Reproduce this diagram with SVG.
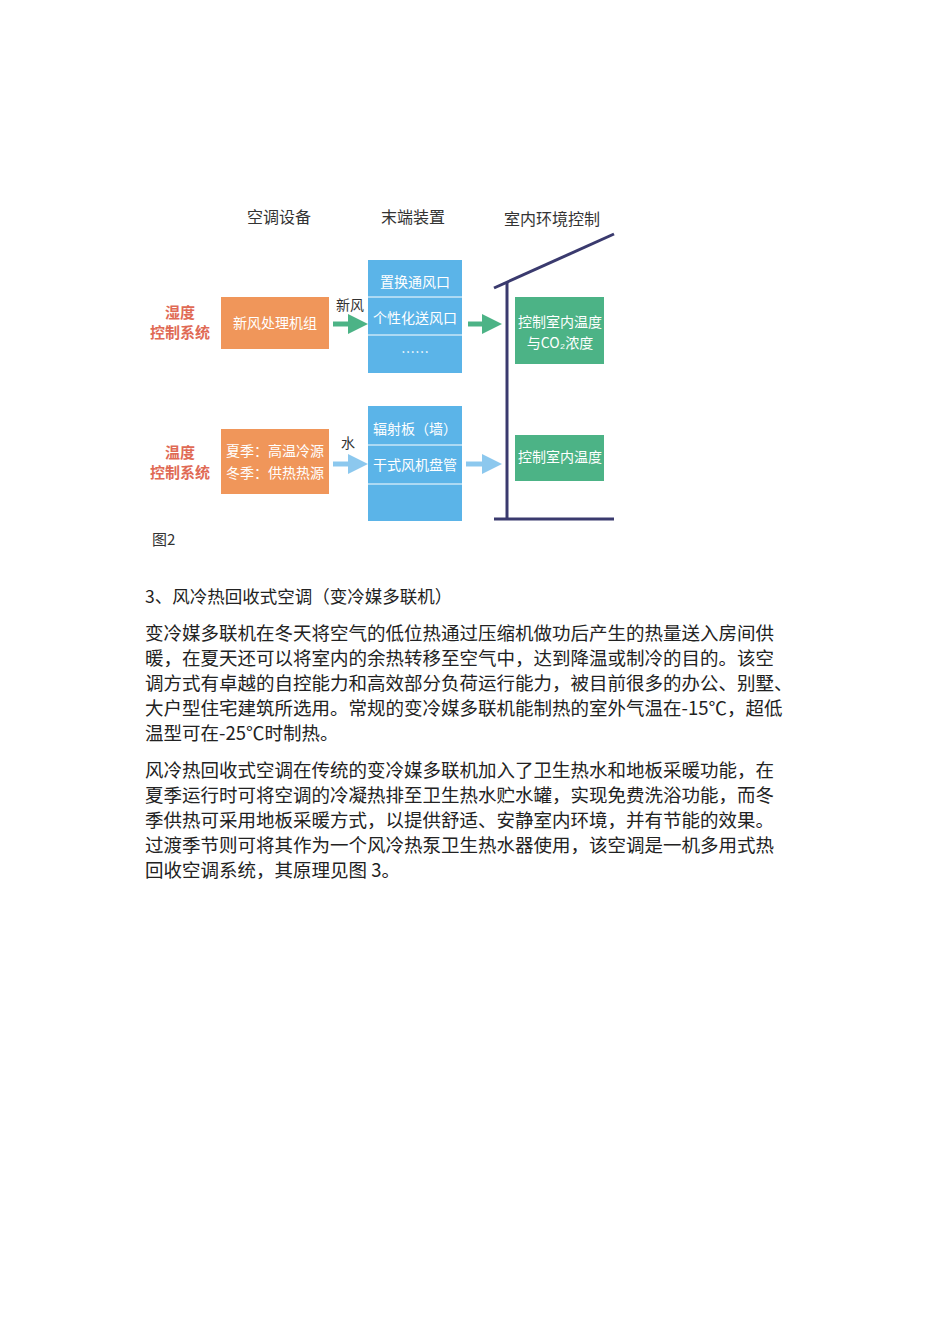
<svg xmlns="http://www.w3.org/2000/svg" width="950" height="1344" viewBox="0 0 950 1344">
<style>
.t{font-family:"Noto Sans CJK SC","Liberation Sans",sans-serif;}
.h{font-size:16px;fill:#333;}
.p{font-size:18.5px;fill:#222;}
.w{font-size:14px;fill:#fff;}
.r{font-size:15px;fill:#e06a55;font-weight:bold;}
.org{fill:#f0965a;}
.blu{fill:#5bb4e8;}
.grn{fill:#4cb386;}
</style>
<defs>
<marker id="ag" markerWidth="4" markerHeight="4" refX="2" refY="2" orient="auto"><path d="M0,0L4,2L0,4z" fill="#4cb386"/></marker>
<marker id="ab" markerWidth="4" markerHeight="4" refX="2" refY="2" orient="auto"><path d="M0,0L4,2L0,4z" fill="#8cc8ee"/></marker>
</defs>
<rect width="950" height="1344" fill="#fff"/>
<g class="t h" text-anchor="middle">
<text x="279" y="223">空调设备</text>
<text x="413" y="223">末端装置</text>
<text x="552" y="225">室内环境控制</text>
</g>
<g class="t r" text-anchor="middle">
<text x="180" y="318">湿度</text><text x="180" y="338">控制系统</text>
<text x="180" y="458">温度</text><text x="180" y="478">控制系统</text>
</g>
<g id="n1"><rect class="org" x="221" y="297" width="108" height="52"/><text class="t w" x="275" y="328" text-anchor="middle">新风处理机组</text></g>
<g id="n2"><rect class="org" x="221" y="429" width="108" height="65"/><text class="t w" x="275" y="456" text-anchor="middle">夏季：高温冷源</text><text class="t w" x="275" y="478" text-anchor="middle">冬季：供热热源</text></g>
<g id="n3"><rect class="blu" x="368" y="260" width="94" height="113"/>
<line x1="368" y1="297" x2="462" y2="297" stroke="#fff"/><line x1="368" y1="335" x2="462" y2="335" stroke="#fff"/>
<text class="t w" x="415" y="287" text-anchor="middle">置换通风口</text><text class="t w" x="415" y="323" text-anchor="middle">个性化送风口</text><text class="t w" x="415" y="357" text-anchor="middle">……</text></g>
<g id="n4"><rect class="blu" x="368" y="406" width="94" height="115"/>
<line x1="368" y1="445" x2="462" y2="445" stroke="#fff"/><line x1="368" y1="484" x2="462" y2="484" stroke="#fff"/>
<text class="t w" x="415" y="434" text-anchor="middle">辐射板（墙）</text><text class="t w" x="415" y="470" text-anchor="middle">干式风机盘管</text></g>
<g id="n5"><rect class="grn" x="515" y="297" width="89" height="67"/><text class="t w" x="560" y="327" text-anchor="middle">控制室内温度</text><text class="t w" x="560" y="348" text-anchor="middle">与CO₂浓度</text></g>
<g id="n6"><rect class="grn" x="515" y="435" width="89" height="46"/><text class="t w" x="560" y="462" text-anchor="middle">控制室内温度</text></g>
<g id="house" stroke="#3a3a6e" stroke-width="3"><line x1="507" y1="282" x2="507" y2="519"/><line x1="494" y1="288" x2="614" y2="234"/><line x1="494" y1="519" x2="614" y2="519"/></g>
<g id="connectors" stroke-width="5">
<line x1="333" y1="324" x2="358" y2="324" stroke="#4cb386" marker-end="url(#ag)"/>
<line x1="468" y1="324" x2="492" y2="324" stroke="#4cb386" marker-end="url(#ag)"/>
<line x1="333" y1="464" x2="358" y2="464" stroke="#8cc8ee" marker-end="url(#ab)"/>
<line x1="466" y1="464" x2="492" y2="464" stroke="#8cc8ee" marker-end="url(#ab)"/>
</g>
<text class="t" x="336" y="310" font-size="14" fill="#333">新风</text>
<text class="t" x="341" y="448" font-size="14" fill="#333">水</text>
<text class="t" x="152" y="545" font-size="15" fill="#333">图2</text>
<g class="t p">
<text x="145" y="603" font-size="17.5">3、风冷热回收式空调（变冷媒多联机）</text>
<text x="145" y="640">变冷媒多联机在冬天将空气的低位热通过压缩机做功后产生的热量送入房间供</text>
<text x="145" y="665">暖，在夏天还可以将室内的余热转移至空气中，达到降温或制冷的目的。该空</text>
<text x="145" y="690">调方式有卓越的自控能力和高效部分负荷运行能力，被目前很多的办公、别墅、</text>
<text x="145" y="715">大户型住宅建筑所选用。常规的变冷媒多联机能制热的室外气温在-15℃，超低</text>
<text x="145" y="740">温型可在-25℃时制热。</text>
<text x="145" y="777">风冷热回收式空调在传统的变冷媒多联机加入了卫生热水和地板采暖功能，在</text>
<text x="145" y="802">夏季运行时可将空调的冷凝热排至卫生热水贮水罐，实现免费洗浴功能，而冬</text>
<text x="145" y="827">季供热可采用地板采暖方式，以提供舒适、安静室内环境，并有节能的效果。</text>
<text x="145" y="852">过渡季节则可将其作为一个风冷热泵卫生热水器使用，该空调是一机多用式热</text>
<text x="145" y="877">回收空调系统，其原理见图 3。</text>
</g>
</svg>
